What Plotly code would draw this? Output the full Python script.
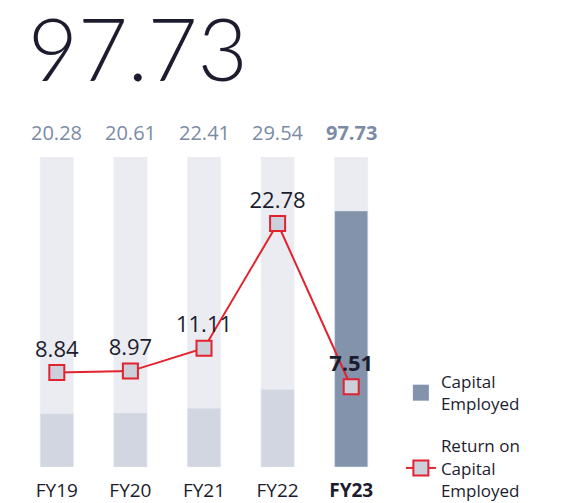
import plotly.graph_objects as go

years = ["FY19", "FY20", "FY21", "FY22", "FY23"]
capital_employed = [20.28, 20.61, 22.41, 29.54, 97.73]
roce = [8.84, 8.97, 11.11, 22.78, 7.51]
tick_labels = ["FY19", "FY20", "FY21", "FY22", "<b>FY23</b>"]

track_max = 118.3
bar_colors = ["#d1d6e0"] * 4 + ["#8393ab"]
top_labels = [f"{v:.2f}" for v in capital_employed[:-1]] + [f"<b>{capital_employed[-1]:.2f}</b>"]
roce_labels = [f"{v:.2f}" for v in roce[:-1]] + [f"<b>{roce[-1]:.2f}</b>"]

fig = go.Figure()

# grey track behind each bar
fig.add_trace(go.Bar(x=years, y=[track_max] * len(years), marker_color="#ebecf1",
                     width=0.45, showlegend=False, hoverinfo="skip"))
fig.add_trace(go.Bar(x=years, y=capital_employed, marker_color=bar_colors, width=0.45,
                     showlegend=False))
# legend entry with a big square swatch
fig.add_trace(go.Scatter(x=[None], y=[None], mode="markers", name="Capital<br>Employed",
                         legendgroup="a",
                         marker=dict(symbol="square", size=20, color="#8393ab")))
fig.add_trace(go.Scatter(x=years, y=roce, yaxis="y2", mode="lines+markers+text",
                         name="Return on<br>Capital<br>Employed", legendgroup="b",
                         cliponaxis=False,
                         line=dict(color="#e3222f", width=2),
                         marker=dict(symbol="square", size=15, color="#cbd0db",
                                     line=dict(color="#e3222f", width=2)),
                         text=roce_labels, textposition="top center",
                         textfont=dict(size=22, color="#1c1c2e", family="Open Sans")))

# labels above the tracks
for year, label in zip(years, top_labels):
    fig.add_annotation(x=year, y=track_max, text=label, showarrow=False,
                       yanchor="bottom", yshift=9,
                       font=dict(size=20, color="#7b8ba6", family="Open Sans"))

fig.update_layout(
    width=555, height=495,
    margin=dict(l=12, r=175, t=149, b=36, autoexpand=False),
    plot_bgcolor="white", paper_bgcolor="white",
    barmode="overlay",
    font=dict(family="Open Sans", color="#1c1c2e"),
    title=dict(text="97.73", x=20 / 555, xanchor="left", xref="container",
               y=1 - 43 / 495, yanchor="middle", yref="container",
               font=dict(size=86, family="Lato", weight=300, color="#1c1c2e")),
    xaxis=dict(range=[-0.5, 4.5], tickvals=years, ticktext=tick_labels, showgrid=False,
               zeroline=False, showline=False, ticks="outside", ticklen=6,
               tickcolor="rgba(0,0,0,0)", tickfont=dict(size=19, color="#1c1c2e")),
    yaxis=dict(range=[0, track_max], visible=False),
    yaxis2=dict(range=[0, 29], overlaying="y", visible=False),
    legend=dict(x=0.035 + 1, xanchor="left", y=0.332, yanchor="top", font=dict(size=17),
                traceorder="grouped", tracegroupgap=17, itemsizing="trace",
                bgcolor="rgba(0,0,0,0)"),
    showlegend=True,
)

fig.write_html("out.html")
